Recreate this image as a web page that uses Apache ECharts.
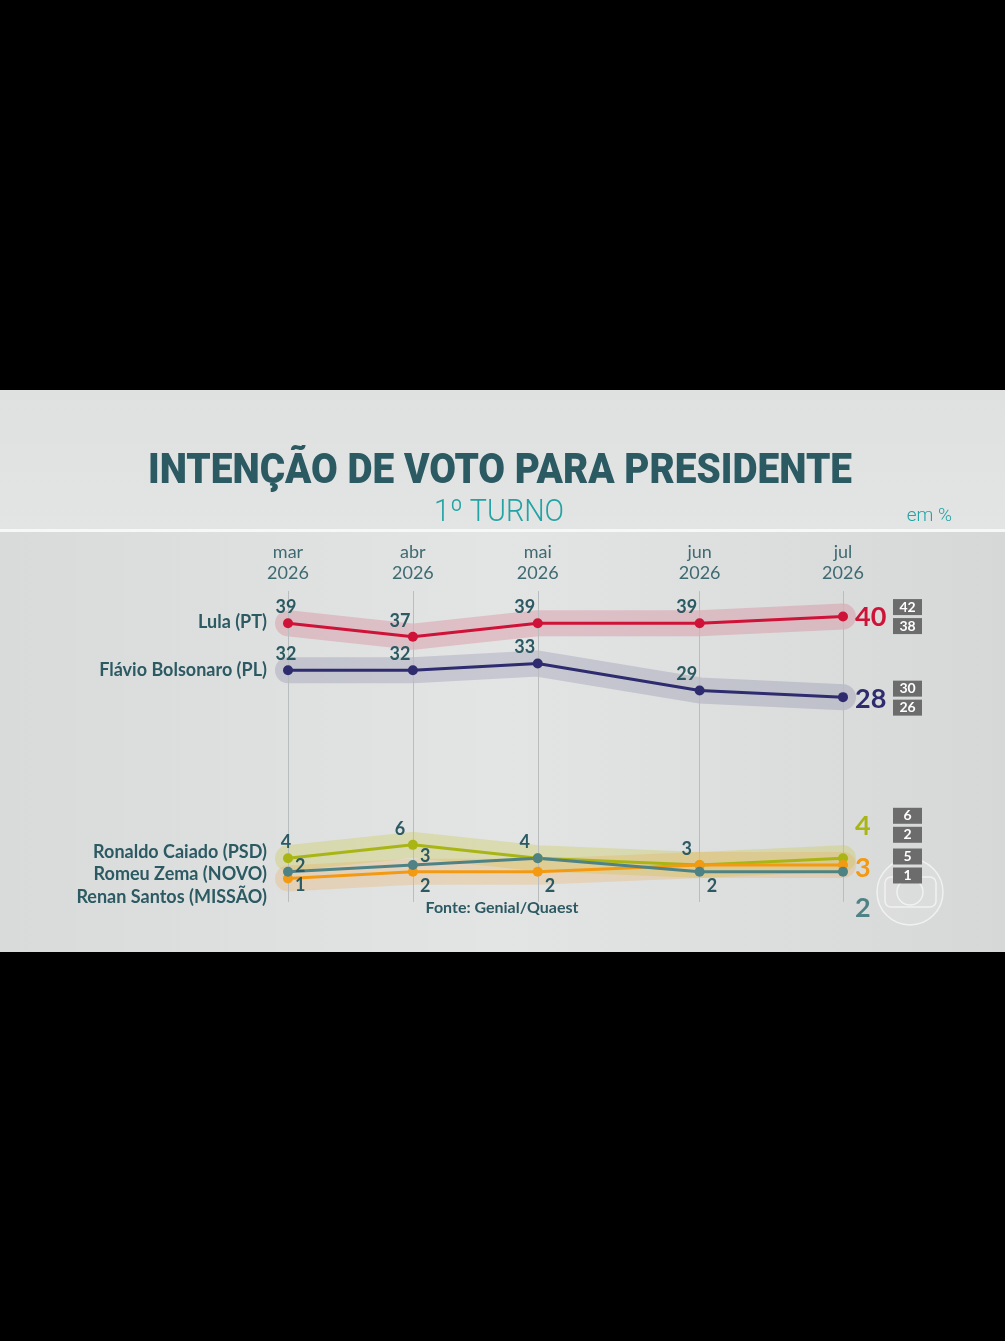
<!DOCTYPE html>
<html>
<head>
<meta charset="utf-8">
<script src="https://cdn.jsdelivr.net/npm/echarts@6/dist/echarts.min.js"></script>
<style>
  html, body { margin: 0; padding: 0; background: #000; }
  #chart { width: 1005px; height: 1341px; }
</style>
</head>
<body>
<div id="chart"></div>
<script>
// pesquisas Genial/Quaest, 1º turno
const months = ['mar', 'abr', 'mai', 'jun', 'jul']
const pollDates = ['2026-03-12', '2026-04-08', '2026-05-05', '2026-06-09', '2026-07-10']
const year = '2026'

const lula = [39, 37, 39, 39, 40]
const flavio = [32, 32, 33, 29, 28]
const caiado = [4, 6, 4, 3, 4]
const zema = [2, 3, 4, 2, 2]
const santos = [1, 2, 2, 3, 3]

// margem de erro da última rodada (máx, mín)
const lulaRange = [42, 38]
const flavioRange = [30, 26]
const caiadoRange = [6, 2]
const santosRange = [5, 1]

const teal = '#2c5a63'
const font = 'Lato, "Open Sans", sans-serif'

// days since the first poll, so the x spacing follows the calendar
const day0 = Date.parse(pollDates[0])
const pollDays = pollDates.map((d) => Math.round((Date.parse(d) - day0) / 86400000))
const toPoints = (values) => values.map((v, i) => [pollDays[i], v])

// where each point's number sits
const up = { position: 'top', offset: [-2, 0] }
const upLeft = { position: 'top', offset: [-13, 0] }
const right = (dy) => ({ position: 'right', offset: [0, dy] })

const labelPlaces = {
  lula: [up, upLeft, upLeft, upLeft, null],
  flavio: [up, upLeft, upLeft, upLeft, null],
  caiado: [up, upLeft, upLeft, upLeft, null],
  zema: [right(-6), right(-9), null, right(14), null],
  santos: [right(7), right(14), right(14), null, null],
}

function line(name, values, color, places, endDy) {
  return {
    name,
    type: 'line',
    z: 5,
    data: values.map((v, i) => {
      const p = places[i]
      return {
        value: [pollDays[i], v],
        label: p ? { show: true, position: p.position, offset: p.offset } : { show: false },
      }
    }),
    symbol: 'circle',
    symbolSize: 10,
    showSymbol: true,
    itemStyle: { color },
    lineStyle: { color, width: 3 },
    label: {
      distance: 2,
      color: teal,
      fontFamily: font,
      fontWeight: 'bold',
      fontSize: 18,
    },
    endLabel: {
      show: true,
      distance: 12,
      offset: [0, endDy],
      formatter: (p) => p.value[1],
      color,
      fontFamily: font,
      fontWeight: 'bold',
      fontSize: 27,
    },
    emphasis: { disabled: true },
  }
}

function band(values, color, range, boxDy) {
  return {
    type: 'line',
    z: 1,
    silent: true,
    data: toPoints(values),
    symbol: 'none',
    lineStyle: { color, width: 26, cap: 'round', join: 'round' },
    endLabel: range
      ? {
          show: true,
          distance: 5,
          offset: [45, boxDy],
          formatter: () => `{b|${range[0]}}\n{b|${range[1]}}`,
          rich: {
            b: {
              backgroundColor: '#6c6c6c',
              color: '#fff',
              width: 29,
              height: 16,
              lineHeight: 19,
              align: 'center',
              fontFamily: font,
              fontWeight: 'bold',
              fontSize: 14,
            },
          },
        }
      : { show: false },
    emphasis: { disabled: true },
  }
}

function measure(text, f) {
  const ctx = document.createElement('canvas').getContext('2d')
  ctx.font = f
  return ctx.measureText(text).width
}

const titleFont = '900 43px Roboto'
const titleText = 'INTENÇÃO DE VOTO PARA PRESIDENTE'
const turnoFont = '300 31px Roboto'
const turnoText = '1º TURNO'

const names = [
  { text: 'Lula (PT)', y: 622 },
  { text: 'Flávio Bolsonaro (PL)', y: 670 },
  { text: 'Ronaldo Caiado (PSD)', y: 852 },
  { text: 'Romeu Zema (NOVO)', y: 874 },
  { text: 'Renan Santos (MISSÃO)', y: 897 },
]

const chart = echarts.init(document.getElementById('chart'))

chart.setOption({
  backgroundColor: '#000',
  animation: false,
  grid: { left: 288, right: 162, top: 583, height: 329 },
  xAxis: {
    type: 'value',
    position: 'top',
    min: pollDays[0],
    max: pollDays[pollDays.length - 1],
    axisLine: { show: false },
    axisTick: { show: false },
    splitLine: { show: false },
    axisLabel: {
      customValues: pollDays,
      showMinLabel: true,
      showMaxLabel: true,
      margin: -1,
      color: '#3f6a72',
      fontFamily: font,
      fontSize: 18,
      lineHeight: 21,
      formatter: (value) => `${months[pollDays.indexOf(value)]}\n${year}`,
    },
  },
  yAxis: {
    type: 'value',
    min: -4,
    max: 45,
    show: false,
  },
  series: [
    {
      type: 'line',
      z: 0,
      silent: true,
      data: [],
      markLine: {
        silent: true,
        symbol: 'none',
        label: { show: false },
        lineStyle: { color: '#b9bdbe', width: 1, type: 'solid' },
        data: pollDays.map((t) => [{ coord: [t, 43.8] }, { coord: [t, -2.5] }]),
      },
    },
    band(lula, 'rgba(210, 80, 110, 0.24)', lulaRange, 0),
    band(flavio, 'rgba(70, 70, 120, 0.18)', flavioRange, 1),
    band(caiado, 'rgba(200, 200, 60, 0.3)', caiadoRange, -33),
    band(santos, 'rgba(240, 165, 60, 0.24)', santosRange, 1),
    line('Ronaldo Caiado (PSD)', caiado, '#a9b515', labelPlaces.caiado, -32),
    line('Renan Santos (MISSÃO)', santos, '#f39a12', labelPlaces.santos, 3),
    line('Romeu Zema (NOVO)', zema, '#4e8285', labelPlaces.zema, 37),
    line('Lula (PT)', lula, '#cf1237', labelPlaces.lula, 1),
    line('Flávio Bolsonaro (PL)', flavio, '#2e2b6e', labelPlaces.flavio, 2),
  ],
  graphic: [
    {
      type: 'rect',
      z: -100,
      silent: true,
      shape: { x: 0, y: 390, width: 1005, height: 142 },
      style: {
        fill: new echarts.graphic.LinearGradient(0, 0, 0, 1, [
          { offset: 0, color: '#dfe1e1' },
          { offset: 1, color: '#e3e4e4' },
        ]),
      },
    },
    {
      type: 'rect',
      z: -100,
      silent: true,
      shape: { x: 0, y: 532, width: 1005, height: 420 },
      style: {
        fill: new echarts.graphic.LinearGradient(0, 0, 1, 0, [
          { offset: 0, color: '#d9dbdb' },
          { offset: 0.5, color: '#e3e4e4' },
          { offset: 1, color: '#d6d8d8' },
        ]),
      },
    },
    {
      type: 'rect',
      z: -99,
      silent: true,
      shape: { x: 0, y: 529, width: 1005, height: 3 },
      style: { fill: '#f6f7f7' },
    },
    {
      type: 'text',
      silent: true,
      x: 500,
      y: 472,
      scaleX: 704 / measure(titleText, titleFont),
      style: {
        text: titleText,
        x: 0,
        y: 0,
        font: titleFont,
        fill: teal,
        align: 'center',
        verticalAlign: 'middle',
        textAlign: 'center',
        textVerticalAlign: 'middle',
      },
    },
    {
      type: 'text',
      silent: true,
      x: 499,
      y: 513,
      scaleX: 130 / measure(turnoText, turnoFont),
      style: {
        text: turnoText,
        x: 0,
        y: 0,
        font: turnoFont,
        fill: '#22a3a4',
        align: 'center',
        verticalAlign: 'middle',
        textAlign: 'center',
        textVerticalAlign: 'middle',
      },
    },
    {
      type: 'text',
      silent: true,
      style: {
        text: 'em %',
        x: 952,
        y: 516,
        font: '300 19px Roboto',
        fill: '#22a3a4',
        align: 'right',
        verticalAlign: 'middle',
        textAlign: 'right',
        textVerticalAlign: 'middle',
      },
    },
    ...names.map((n) => ({
      type: 'text',
      silent: true,
      style: {
        text: n.text,
        x: 267,
        y: n.y,
        font: `bold 18px ${font}`,
        fill: teal,
        align: 'right',
        verticalAlign: 'middle',
        textAlign: 'right',
        textVerticalAlign: 'middle',
      },
    })),
    {
      type: 'text',
      silent: true,
      style: {
        text: 'Fonte: Genial/Quaest',
        x: 502,
        y: 908,
        font: `bold 16px ${font}`,
        fill: teal,
        align: 'center',
        verticalAlign: 'middle',
        textAlign: 'center',
        textVerticalAlign: 'middle',
      },
    },
    // marca d'água
    {
      type: 'group',
      silent: true,
      z: 100,
      children: [
        {
          type: 'circle',
          shape: { cx: 910, cy: 892, r: 33 },
          style: { fill: 'rgba(255,255,255,0.08)', stroke: 'rgba(255,255,255,0.6)', lineWidth: 1.5 },
        },
        {
          type: 'rect',
          shape: { x: 885, y: 877, width: 51, height: 30, r: 6 },
          style: { fill: 'none', stroke: 'rgba(255,255,255,0.6)', lineWidth: 1.5 },
        },
        {
          type: 'circle',
          shape: { cx: 910, cy: 892, r: 13 },
          style: { fill: 'none', stroke: 'rgba(255,255,255,0.6)', lineWidth: 1.5 },
        },
      ],
    },
  ],
})
</script>
</body>
</html>
